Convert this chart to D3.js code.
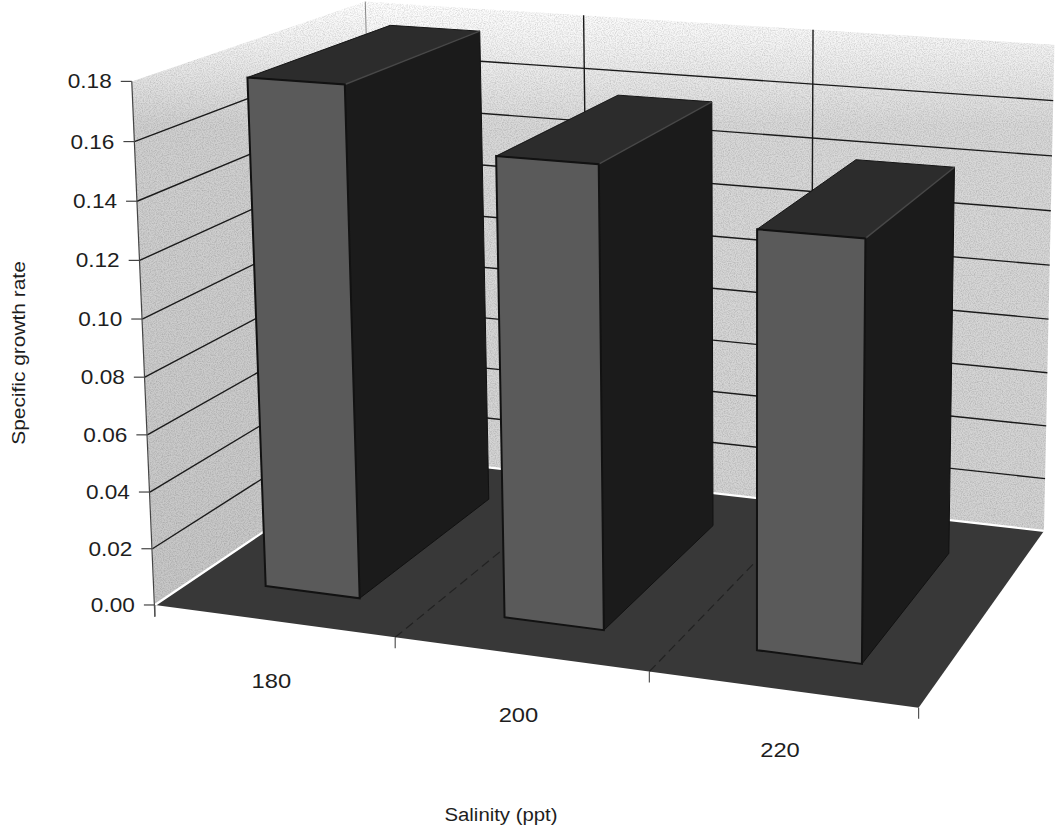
<!DOCTYPE html>
<html>
<head>
<meta charset="utf-8">
<title>Specific growth rate vs salinity</title>
<script src="https://d3js.org/d3.v7.min.js"></script>
<style>
  body { margin: 0; background: #fff; }
  svg { display: block; }
  text { font-family: "Liberation Sans", Arial, sans-serif; fill: #1e1e1e; }
</style>
</head>
<body>
<div id="chart"></div>
<script>
// data
const salinity = ["180", "200", "220"];
const growthRate = [0.178, 0.158, 0.141];
const yTicks = [0, 0.02, 0.04, 0.06, 0.08, 0.10, 0.12, 0.14, 0.16, 0.18];

const W = 1058, H = 834;

// world space: x = category axis, y = value, z = depth (0 front, 1 back), all 0..1
const xBand = d3.scaleBand().domain(salinity).range([0, 1]).paddingInner(0.6).paddingOuter(0.3);
const zBand = d3.scaleBand().domain(["s1"]).range([0.165, 0.8]);
const yScale = d3.scaleLinear().domain([0, 0.18]).range([0, 1]);

// camera: screen positions of the box frame, used to fit a 3x4 projection
const anchors = [
  [[0, 0, 0], [154, 603]], [[0, 0.02, 0], [152, 548]], [[0, 0.04, 0], [148, 493]],
  [[0, 0.06, 0], [147, 435]], [[0, 0.08, 0], [143, 377]], [[0, 0.10, 0], [142, 320]],
  [[0, 0.12, 0], [140, 260]], [[0, 0.14, 0], [137, 202]], [[0, 0.16, 0], [135, 143]],
  [[0, 0.18, 0], [133, 83]],
  [[1/3, 0, 0], [396, 637]], [[2/3, 0, 0], [650, 670]], [[1, 0, 0], [921, 707]],
  [[1, 0, 1], [1043, 533]], [[1, 0.02, 1], [1044, 480]], [[1, 0.08, 1], [1048, 320]],
  [[1, 0.16, 1], [1052, 99]], [[0, 0.16, 1], [367, 53]], [[1/3, 0.16, 1], [583, 67]],
  [[2/3, 0.16, 1], [815, 83]], [[0, 0, 1], [380, 455]]
];

function fitProjection(pairs) {
  const n = 11, s = 1000;
  const M = Array.from({length: n}, () => new Array(n + 1).fill(0));
  function add(row, rhs) {
    for (let i = 0; i < n; i++) {
      for (let j = 0; j < n; j++) M[i][j] += row[i] * row[j];
      M[i][n] += row[i] * rhs;
    }
  }
  pairs.forEach(p => {
    const X = p[0][0], Y = yScale(p[0][1]), Z = p[0][2];
    const u = p[1][0] / s, v = p[1][1] / s;
    add([X, Y, Z, 1, 0, 0, 0, 0, -u * X, -u * Y, -u * Z], u);
    add([0, 0, 0, 0, X, Y, Z, 1, -v * X, -v * Y, -v * Z], v);
  });
  for (let c = 0; c < n; c++) {
    let piv = c;
    for (let r = c + 1; r < n; r++) if (Math.abs(M[r][c]) > Math.abs(M[piv][c])) piv = r;
    [M[c], M[piv]] = [M[piv], M[c]];
    for (let r = 0; r < n; r++) {
      if (r === c) continue;
      const f = M[r][c] / M[c][c];
      for (let k = c; k <= n; k++) M[r][k] -= f * M[c][k];
    }
  }
  const h = M.map((row, i) => row[n] / row[i]);
  return (X, Y, Z) => {
    const w = h[8] * X + h[9] * Y + h[10] * Z + 1;
    return [s * (h[0] * X + h[1] * Y + h[2] * Z + h[3]) / w,
            s * (h[4] * X + h[5] * Y + h[6] * Z + h[7]) / w];
  };
}
const proj = fitProjection(anchors);
const P = (x, v, z) => proj(x, yScale(v), z);
const poly = pts => "M" + pts.map(p => p.join(",")).join("L") + "Z";
const line = d3.line();

const svg = d3.select("#chart").append("svg").attr("width", W).attr("height", H);
const defs = svg.append("defs");

function fade(id, stops) {
  const g = defs.append("linearGradient").attr("id", id)
    .attr("gradientUnits", "userSpaceOnUse").attr("x1", 0).attr("y1", 0).attr("x2", 0).attr("y2", H);
  stops.forEach(s => g.append("stop").attr("offset", s[0]).attr("stop-color", s[1]));
}
fade("leftWall", [[0, "#ffffff"], [0.05, "#f2f2f2"], [0.15, "#d0d0d0"], [1, "#c2c2c2"]]);
fade("backWall", [[0, "#ffffff"], [0.05, "#f4f4f4"], [0.15, "#d8d8d8"], [1, "#cecece"]]);

// scanner grain
const grain = defs.append("filter").attr("id", "grain").attr("x", 0).attr("y", 0).attr("width", 1).attr("height", 1);
grain.append("feTurbulence").attr("type", "fractalNoise").attr("baseFrequency", 0.85).attr("numOctaves", 2).attr("seed", 3);
grain.append("feColorMatrix").attr("type", "matrix")
  .attr("values", "0 0 0 0 0  0 0 0 0 0  0 0 0 0 0  0 0 0 -1.6 1.0");

const vMax = 0.18;
const leftWall = [P(0, 0, 0), P(0, 0, 1), P(0, vMax, 1), P(0, vMax, 0)];
const backWall = [P(0, 0, 1), P(1, 0, 1), P(1, vMax, 1), P(0, vMax, 1)];
const floor = [P(0, 0, 0), P(1, 0, 0), P(1, 0, 1), P(0, 0, 1)];

// walls
svg.append("path").attr("d", poly(leftWall)).attr("fill", "url(#leftWall)");
svg.append("path").attr("d", poly(backWall)).attr("fill", "url(#backWall)");
defs.append("clipPath").attr("id", "walls").append("path").attr("d", poly(leftWall) + poly(backWall));
svg.append("rect").attr("width", W).attr("height", H).attr("clip-path", "url(#walls)")
  .attr("filter", "url(#grain)").attr("opacity", 0.18);

// gridlines on the walls (the top edge at 0.18 has no line)
const inner = yTicks.slice(1, -1);
const grid = svg.append("g").attr("stroke", "#1a1a1a").attr("stroke-width", 1.4).attr("fill", "none");
grid.selectAll("path.left").data(inner).join("path").attr("class", "left")
  .attr("d", v => line([P(0, v, 0), P(0, v, 1)]));
grid.selectAll("path.back").data(inner).join("path").attr("class", "back")
  .attr("d", v => line([P(0, v, 1), P(1, v, 1)]));
grid.selectAll("path.vert").data([1/3, 2/3]).join("path").attr("class", "vert")
  .attr("d", x => line([P(x, 0, 1), P(x, vMax, 1)]));
svg.append("path").attr("d", line([P(0, 0, 1), P(0, vMax, 1)]))
  .attr("stroke", "#888").attr("stroke-width", 1);

// floor
svg.append("path").attr("d", poly(floor)).attr("fill", "#383838");
svg.append("path").attr("d", line([P(0, 0, 0), P(0, 0, 1), P(1, 0, 1)]))
  .attr("stroke", "#fff").attr("stroke-width", 2.2).attr("fill", "none");
svg.selectAll("path.floorgrid").data([1/3, 2/3]).join("path").attr("class", "floorgrid")
  .attr("d", x => line([P(x, 0, 0), P(x, 0, 1)]))
  .attr("stroke", "#222").attr("stroke-width", 1.2).attr("stroke-dasharray", "9,5").attr("fill", "none");

// value axis
const y0 = P(0, 0, 0);
svg.append("path").attr("d", line([P(0, vMax, 0), [y0[0], y0[1] + 12]]))
  .attr("stroke", "#444").attr("stroke-width", 1.2);
const yAxis = svg.append("g");
yTicks.forEach(v => {
  const p = P(0, v, 0);
  yAxis.append("line").attr("x1", p[0] - 11).attr("x2", p[0]).attr("y1", p[1]).attr("y2", p[1])
    .attr("stroke", "#444").attr("stroke-width", 1.2);
  yAxis.append("text").attr("x", p[0] - 20).attr("y", p[1]).attr("dy", "0.35em")
    .attr("text-anchor", "end").attr("font-size", 20).text(v.toFixed(2));
});

// category axis ticks and labels
[0, 1/3, 2/3, 1].forEach(x => {
  const p = P(x, 0, 0);
  svg.append("line").attr("x1", p[0]).attr("x2", p[0]).attr("y1", p[1]).attr("y2", p[1] + 11)
    .attr("stroke", "#555").attr("stroke-width", 1.2);
});
salinity.forEach(c => {
  const p = P(xBand(c) + xBand.bandwidth() / 2, 0, 0);
  svg.append("text").attr("x", p[0] - 2).attr("y", p[1] + 60).attr("dy", "0.35em")
    .attr("text-anchor", "middle").attr("font-size", 21).text(c);
});

// bars
const z0 = zBand("s1"), z1 = z0 + zBand.bandwidth();
const bars = svg.append("g");
salinity.forEach((c, i) => {
  const v = growthRate[i], x0 = xBand(c), x1 = x0 + xBand.bandwidth();
  const g = bars.append("g");
  g.append("path").attr("d", poly([P(x1, 0, z0), P(x1, 0, z1), P(x1, v, z1), P(x1, v, z0)]))
    .attr("fill", "#1b1b1b").attr("stroke", "#111").attr("stroke-width", 1);
  g.append("path").attr("d", poly([P(x0, v, z0), P(x1, v, z0), P(x1, v, z1), P(x0, v, z1)]))
    .attr("fill", "#2c2c2c").attr("stroke", "#151515").attr("stroke-width", 1);
  g.append("path").attr("d", line([P(x1, v, z0), P(x1, v, z1)]))
    .attr("stroke", "#484848").attr("stroke-width", 1.5);
  g.append("path").attr("d", poly([P(x0, 0, z0), P(x1, 0, z0), P(x1, v, z0), P(x0, v, z0)]))
    .attr("fill", "#5a5a5a").attr("stroke", "#121212").attr("stroke-width", 2);
});

// axis titles
svg.append("text").attr("transform", "translate(19,353) rotate(-90)")
  .attr("text-anchor", "middle").attr("dy", "0.35em").attr("font-size", 18.5).text("Specific growth rate");
svg.append("text").attr("x", 501).attr("y", 815).attr("dy", "0.35em")
  .attr("text-anchor", "middle").attr("font-size", 18).text("Salinity (ppt)");

// the scan is a little wider than tall, so stretch the text to match
svg.selectAll("text").each(function() {
  const w = this.getComputedTextLength();
  d3.select(this).attr("textLength", w * 1.13).attr("lengthAdjust", "spacingAndGlyphs");
});
</script>
</body>
</html>
